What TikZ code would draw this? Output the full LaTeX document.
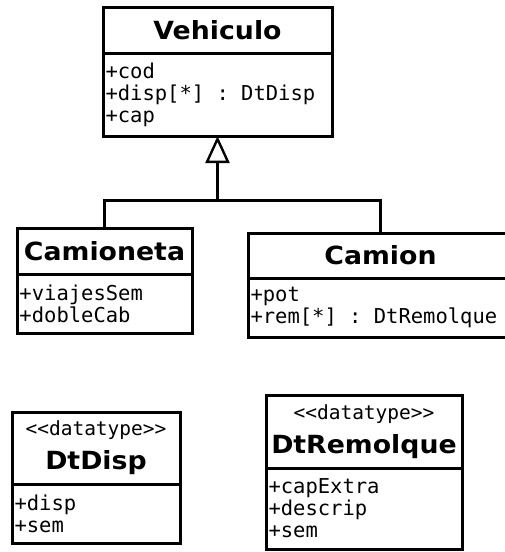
\documentclass[tikz,border=0pt]{standalone}
\usepackage{fontspec}
\usetikzlibrary{arrows.meta}
\newfontfamily\umlmono{DejaVu Sans Mono}
\newfontfamily\umlsans[FakeStretch=1.07]{DejaVu Sans}
\newcommand{\dtype}{{\umlmono\mdseries\fontsize{19.5}{20}\selectfont <\kern0pt<datatype>\kern0pt>}}
\newcommand{\msp}{\hspace*{12.3pt}}

\begin{document}
\begin{tikzpicture}[x=1pt, y=-1pt,
    box/.style={draw, line width=3pt, anchor=north west, inner sep=0pt, outer sep=0pt},
    head/.style={box, align=center, font=\umlsans\bfseries\fontsize{25}{34}\selectfont},
    attr/.style={box, align=left, inner xsep=2.5pt, font=\umlmono\fontsize{20.5}{22}\selectfont},
    link/.style={line width=3pt}]
      \useasboundingbox (0,0) rectangle (505,552);

      % Vehiculo
      \node[head, minimum width=229pt, minimum height=46pt] (vehiculo) at (103,7) {Vehiculo};
      \node[attr, minimum width=229pt, minimum height=83pt, text width=224pt] (vehiculoAttr)
        at (vehiculo.south west) {+cod\\+disp[*]\msp:\msp DtDisp\\+cap};

      % Camioneta
      \node[head, minimum width=175pt, minimum height=46pt] (camioneta) at (17,228) {Camioneta};
      \node[attr, minimum width=175pt, minimum height=59pt, text width=170pt] (camionetaAttr)
        at (camioneta.south west) {+viajesSem\\+dobleCab};

      % Camion
      \node[head, minimum width=265pt, minimum height=45pt] (camion) at (248,233) {Camion};
      \node[attr, minimum width=265pt, minimum height=59pt, text width=260pt] (camionAttr)
        at (camion.south west) {+pot\\+rem[*]\msp:\msp DtRemolque};

      % Datatypes
      \node[head, minimum width=168pt, minimum height=72pt] (dtDisp) at (12,412)
        {\dtype\\DtDisp};
      \node[attr, minimum width=168pt, minimum height=59pt, text width=163pt] (dtDispAttr)
        at (dtDisp.south west) {+disp\\+sem};
      \node[head, minimum width=196pt, minimum height=73pt] (dtRemolque) at (266,395)
        {\dtype\\DtRemolque};
      \node[attr, minimum width=196pt, minimum height=81pt, text width=191pt] (dtRemolqueAttr)
        at (dtRemolque.south west) {+capExtra\\+descrip\\+sem};

      % Generalization
      \path (vehiculoAttr.south) ++(0,64) coordinate (junc);
      \draw[link] (camioneta.north) |- (junc) -| (camion.north);
      \draw[link, -{Triangle[open, width=24pt, length=27pt, line width=2.4pt]}] (junc) -- (vehiculoAttr.south);
\end{tikzpicture}
\end{document}
